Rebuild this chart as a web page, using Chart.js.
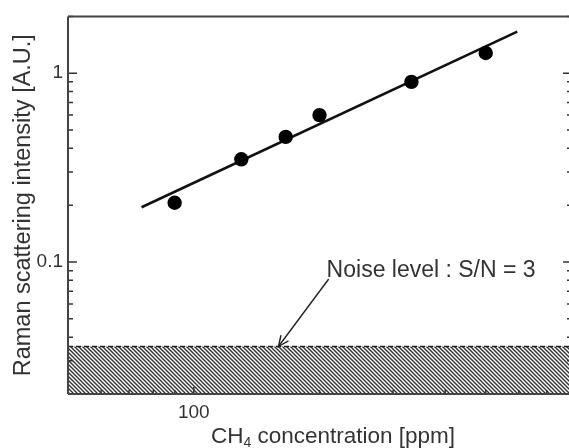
<!DOCTYPE html>
<html><head><meta charset="utf-8">
<script src="https://cdn.jsdelivr.net/npm/chart.js@4/dist/chart.umd.min.js"></script>
<style>html,body{margin:0;padding:0;overflow:hidden;background:#fff}canvas{display:block}</style>
</head><body>
<canvas id="c" width="580" height="448"></canvas>
<script>
// ---- data ----
const concentrationPpm = [90, 130, 166, 200, 332, 500];
const ramanIntensity = [0.206, 0.35, 0.46, 0.60, 0.90, 1.28];
const fitConcentration = [75, 595];
const fitIntensity = [0.195, 1.66];
const noiseLevel = 0.0357;
const noiseSpan = [50, 800];
const xTickValues = [50, 60, 70, 80, 90, 100, 200, 300, 400, 500, 600, 700, 800];
const xTickLabels = { 100: '100' };
const yTickValues = [0.02, 0.03, 0.04, 0.05, 0.06, 0.07, 0.08, 0.09, 0.1, 0.2, 0.3, 0.4, 0.5, 0.6, 0.7, 0.8, 0.9, 1, 2];
const yTickLabels = { 0.1: '0.1', 1: '1' };
const noiseLabel = 'Noise level : S/N = 3';
const noiseLabelAt = [208, 0.0904];
const arrowFrom = [210, 0.0808];
const arrowTo = [159.5, noiseLevel];
const xTitleParts = ['CH', '4', ' concentration [ppm]'];
const yTitle = 'Raman scattering intensity [A.U.]';

const FONT = '"Liberation Sans", Arial, sans-serif';
const ctx = document.getElementById('c').getContext('2d');

function hatchPattern() {
  const p = document.createElement('canvas');
  p.width = 4; p.height = 4;
  const g = p.getContext('2d');
  g.fillStyle = '#fff'; g.fillRect(0, 0, 4, 4);
  g.strokeStyle = '#333'; g.lineWidth = 1.4;
  g.beginPath();
  g.moveTo(-1, -1); g.lineTo(5, 5);
  g.moveTo(3, -1); g.lineTo(5, 1);
  g.moveTo(-1, 3); g.lineTo(1, 5);
  g.stroke();
  return ctx.createPattern(p, 'repeat');
}

const deco = {
  id: 'deco',
  afterDraw(chart) {
    const { ctx: c, chartArea: a, scales: { x, y } } = chart;
    c.save();
    // arrow
    const x0 = x.getPixelForValue(arrowFrom[0]), y0 = y.getPixelForValue(arrowFrom[1]);
    const x1 = x.getPixelForValue(arrowTo[0]), y1 = y.getPixelForValue(arrowTo[1]);
    c.strokeStyle = '#222'; c.lineWidth = 1.4; c.lineCap = 'round';
    c.beginPath(); c.moveTo(x0, y0); c.lineTo(x1, y1); c.stroke();
    const ang = Math.atan2(y1 - y0, x1 - x0), L = 11, s = 0.42;
    c.beginPath();
    c.moveTo(x1 - L * Math.cos(ang - s), y1 - L * Math.sin(ang - s));
    c.lineTo(x1, y1);
    c.lineTo(x1 - L * Math.cos(ang + s), y1 - L * Math.sin(ang + s));
    c.stroke();
    // noise label
    c.font = '23px ' + FONT; c.fillStyle = '#333'; c.textBaseline = 'middle'; c.textAlign = 'left';
    c.fillText(noiseLabel, x.getPixelForValue(noiseLabelAt[0]), y.getPixelForValue(noiseLabelAt[1]));
    // tick marks (inward)
    c.strokeStyle = '#333'; c.lineWidth = 1.5; c.lineCap = 'butt';
    c.beginPath();
    yTickValues.forEach(v => {
      const py = y.getPixelForValue(v);
      const major = yTickLabels[v] !== undefined;
      c.moveTo(a.left, py); c.lineTo(a.left + (major ? 9 : 5), py);
      c.moveTo(a.right, py); c.lineTo(a.right - (major ? 8 : 4), py);
    });
    xTickValues.forEach(v => {
      const px = x.getPixelForValue(v);
      const major = xTickLabels[v] !== undefined;
      c.moveTo(px, a.bottom); c.lineTo(px, a.bottom - (major ? 7 : 4));
    });
    c.stroke();
    // frame
    c.strokeStyle = '#444'; c.lineWidth = 2;
    c.beginPath();
    c.moveTo(a.left, a.top); c.lineTo(a.right, a.top);
    c.moveTo(a.left, a.top); c.lineTo(a.left, a.bottom);
    c.moveTo(a.left, a.bottom); c.lineTo(a.right, a.bottom);
    c.moveTo(a.right, a.top); c.lineTo(a.right, a.bottom);
    c.stroke();
    // x title with subscript
    c.fillStyle = '#333'; c.textBaseline = 'alphabetic';
    const big = '22.5px ' + FONT, small = '14px ' + FONT;
    c.font = big; const w1 = c.measureText(xTitleParts[0]).width, w3 = c.measureText(xTitleParts[2]).width;
    c.font = small; const w2 = c.measureText(xTitleParts[1]).width;
    const total = w1 + w2 + w3;
    let tx = a.left + 265 - total / 2; const base = a.bottom + 49;
    c.font = big; c.fillText(xTitleParts[0], tx, base); tx += w1;
    c.font = small; c.fillText(xTitleParts[1], tx, base + 4); tx += w2;
    c.font = big; c.fillText(xTitleParts[2], tx, base);
    c.restore();
  }
};

new Chart(ctx, {
  type: 'scatter',
  data: {
    datasets: [
      {
        label: 'noise',
        data: noiseSpan.map(v => ({ x: v, y: noiseLevel })),
        showLine: true, pointRadius: 0,
        borderColor: '#222', borderWidth: 1.5, borderDash: [5, 3],
        fill: 'start', backgroundColor: hatchPattern(), order: 3
      },
      {
        label: 'fit',
        data: fitConcentration.map((v, i) => ({ x: v, y: fitIntensity[i] })),
        showLine: true, pointRadius: 0,
        borderColor: '#111', borderWidth: 2.6, fill: false, order: 2
      },
      {
        label: 'measured',
        data: concentrationPpm.map((v, i) => ({ x: v, y: ramanIntensity[i] })),
        pointRadius: 7.2, pointBackgroundColor: '#000', pointBorderColor: '#000', pointBorderWidth: 0,
        order: 1
      }
    ]
  },
  options: {
    responsive: false, animation: false, devicePixelRatio: 1,
    layout: { padding: { top: 15, right: 9, left: 0, bottom: 0 } },
    plugins: { legend: { display: false }, tooltip: { enabled: false } },
    scales: {
      x: {
        type: 'logarithmic', min: 50, max: 800,
        grid: { display: false, drawTicks: false }, border: { display: false },
        afterBuildTicks: s => { s.ticks = xTickValues.map(v => ({ value: v })); },
        afterFit: s => { s.height = 54; },
        ticks: {
          autoSkip: false, maxRotation: 0, padding: 7,
          font: { family: FONT, size: 19 }, color: '#333',
          callback: v => xTickLabels[v] ?? ''
        }
      },
      y: {
        type: 'logarithmic', min: 0.02, max: 2,
        grid: { display: false, drawTicks: false }, border: { display: false },
        afterBuildTicks: s => { s.ticks = yTickValues.map(v => ({ value: v })); },
        afterFit: s => { s.width = 68; },
        title: { display: true, text: yTitle, font: { family: FONT, size: 23.5 }, color: '#333', padding: { top: 9, bottom: 0 } },
        ticks: {
          autoSkip: false, padding: 5,
          font: { family: FONT, size: 19 }, color: '#333',
          callback: v => yTickLabels[v] ?? ''
        }
      }
    }
  },
  plugins: [deco]
});
</script>
</body></html>
